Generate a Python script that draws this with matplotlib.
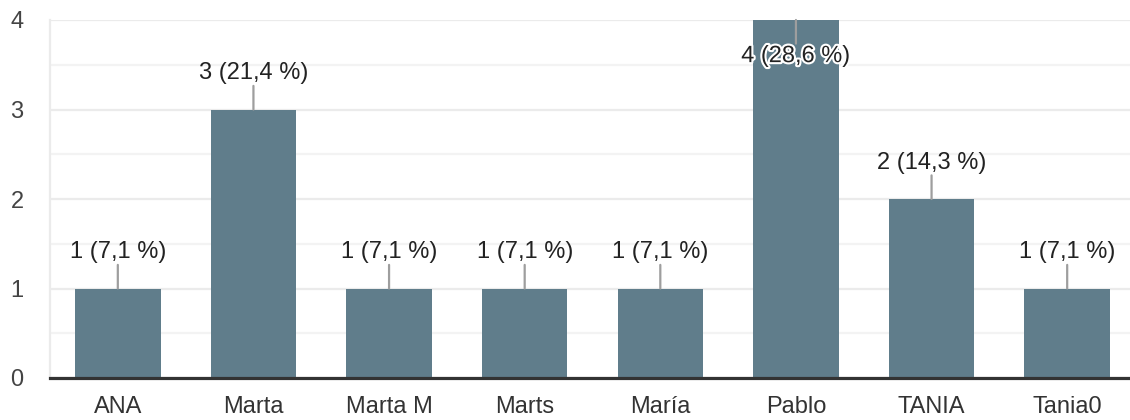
import matplotlib
matplotlib.use('Agg')
from matplotlib import pyplot as plt
import matplotlib.patheffects as pe

names = ['ANA', 'Marta', 'Marta M', 'Marts', 'María', 'Pablo', 'TANIA', 'Tania0']
counts = [1, 3, 1, 1, 1, 4, 2, 1]
labels = ['1 (7,1 %)', '3 (21,4 %)', '1 (7,1 %)', '1 (7,1 %)', '1 (7,1 %)',
          '4 (28,6 %)', '2 (14,3 %)', '1 (7,1 %)']

plt.rcParams['font.family'] = ['Liberation Sans', 'DejaVu Sans']

fig = plt.figure(figsize=(11.3, 4.2), dpi=100)
ax = fig.add_axes([50 / 1130, 42 / 420, 1085 / 1130, 358 / 420])

ax.set_axisbelow(True)
ax.bar(range(len(names)), counts, width=0.63, color='#607d8b', zorder=2)

ymax = 4
ax.set_xlim(-0.5, len(names) - 0.5)
ax.set_ylim(0, ymax)

# grid
ax.set_yticks([0, 1, 2, 3, 4])
ax.set_yticks([0.5, 1.5, 2.5, 3.5], minor=True)
ax.grid(axis='y', which='major', color='#ebebeb', lw=1.6, zorder=0)
ax.grid(axis='y', which='minor', color='#f3f3f3', lw=1.6, zorder=0)
ax.tick_params(axis='y', which='both', length=0, pad=19, labelsize=17, labelcolor='#444444')
ax.tick_params(axis='x', length=0, pad=13, labelsize=17, labelcolor='#333333')
ax.set_xticks(range(len(names)))
ax.set_xticklabels(names)

for s in ['top', 'right']:
    ax.spines[s].set_visible(False)
ax.spines['left'].set_color('#ebebeb')
ax.spines['left'].set_linewidth(1.6)
ax.spines['bottom'].set_color('#333333')
ax.spines['bottom'].set_linewidth(2.3)
ax.spines['bottom'].set_zorder(3)

for i, (v, lab) in enumerate(zip(counts, labels)):
    if v >= ymax:
        d = -1
    else:
        d = 1
    ax.annotate('', xy=(i, v), xytext=(0, 17 * d), textcoords='offset points',
                arrowprops=dict(arrowstyle='-', color='#9e9e9e', lw=1.6,
                                shrinkA=0, shrinkB=0), zorder=3)
    t = ax.annotate(lab, xy=(i, v), xytext=(0, 26 * d), textcoords='offset points',
                    ha='center', va='center', fontsize=17, color='#222222', zorder=4)
    if d < 0:
        t.set_path_effects([pe.withStroke(linewidth=3, foreground='white')])

fig.savefig('out.png', dpi=100)
